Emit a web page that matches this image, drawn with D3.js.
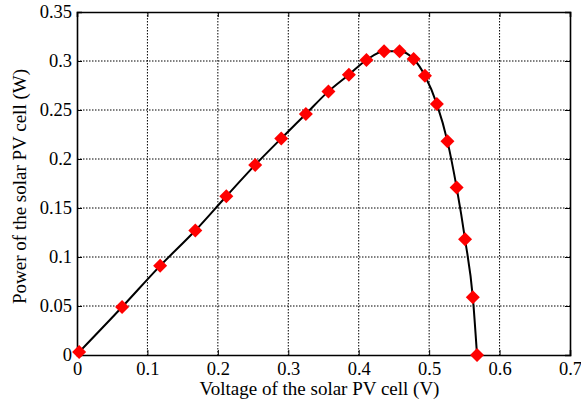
<!DOCTYPE html>
<html>
<head>
<meta charset="utf-8">
<script src="https://cdn.jsdelivr.net/npm/d3@7"></script>
<style>
  body { margin: 0; background: #fff; }
  text { font-family: "Liberation Serif", "Times New Roman", serif; fill: #000; }
</style>
</head>
<body>
<div id="chart"></div>
<script>
// measured points of the PV cell (voltage V, power W)
var voltage = [0.003, 0.064, 0.118, 0.168, 0.212, 0.253, 0.290, 0.325, 0.357, 0.386,
               0.411, 0.436, 0.458, 0.478, 0.494, 0.511, 0.526, 0.539, 0.551, 0.562, 0.568];
var power = [0.003, 0.049, 0.091, 0.127, 0.162, 0.194, 0.221, 0.246, 0.269, 0.286,
             0.301, 0.310, 0.310, 0.302, 0.285, 0.256, 0.218, 0.171, 0.118, 0.059, 0.000];
var xTicks = [0, 0.1, 0.2, 0.3, 0.4, 0.5, 0.6, 0.7];
var yTicks = [0, 0.05, 0.1, 0.15, 0.2, 0.25, 0.3, 0.35];

var width = 581, height = 408;
var margin = { top: 12, right: 11, bottom: 53, left: 77 };
var w = width - margin.left - margin.right;
var h = height - margin.top - margin.bottom;
var serif = "'Liberation Serif', 'Times New Roman', serif";

var svg = d3.select("#chart")
    .append("svg")
    .attr("width", width)
    .attr("height", height)
    .append("g")
    .attr("transform", "translate(" + margin.left + "," + margin.top + ")");

var x = d3.scaleLinear().domain([0, 0.7]).range([0, w]);
var y = d3.scaleLinear().domain([0, 0.35]).range([h, 0]);

// dotted grid
svg.append("g").selectAll("line")
    .data(xTicks.slice(1, -1))
    .enter().append("line")
    .attr("x1", function (d) { return x(d); })
    .attr("x2", function (d) { return x(d); })
    .attr("y1", 0).attr("y2", h)
    .attr("stroke", "#000").attr("stroke-width", 1)
    .attr("stroke-dasharray", "1.5,1.5");

svg.append("g").selectAll("line")
    .data(yTicks.slice(1, -1))
    .enter().append("line")
    .attr("y1", function (d) { return y(d); })
    .attr("y2", function (d) { return y(d); })
    .attr("x1", 0).attr("x2", w)
    .attr("stroke", "#000").attr("stroke-width", 1)
    .attr("stroke-dasharray", "1.5,1.5");

// axes with inward ticks
var fmt = function (d) { return String(+d.toFixed(2)); };

svg.append("g")
    .attr("transform", "translate(0," + h + ")")
    .call(d3.axisBottom(x).tickValues(xTicks).tickSize(-5).tickPadding(7).tickFormat(fmt));
svg.append("g")
    .call(d3.axisLeft(y).tickValues(yTicks).tickSize(-5).tickPadding(5).tickFormat(fmt));
svg.append("g")
    .call(d3.axisTop(x).tickValues(xTicks).tickSize(-5).tickFormat(""));
svg.append("g")
    .attr("transform", "translate(" + w + ",0)")
    .call(d3.axisRight(y).tickValues(yTicks).tickSize(-5).tickFormat(""));

svg.selectAll("g").attr("font-family", serif).attr("font-size", 18);
svg.selectAll(".domain").attr("stroke", "#000").attr("stroke-width", 1.6);
svg.selectAll(".tick line").attr("stroke", "#000").attr("stroke-width", 1);
svg.selectAll(".tick text")
    .style("font-family", serif)
    .style("font-size", "18.5px")
    .attr("fill", "#000");

// curve
var pts = voltage.map(function (v, i) { return [v, power[i]]; });
var line = d3.line()
    .x(function (d) { return x(d[0]); })
    .y(function (d) { return y(d[1]); })
    .curve(d3.curveMonotoneX);

svg.append("path")
    .datum(pts)
    .attr("fill", "none")
    .attr("stroke", "#000")
    .attr("stroke-width", 2)
    .attr("d", line);

// square diamond markers
var diamond = {
    draw: function (ctx, size) {
        var r = Math.sqrt(size / 2);
        ctx.moveTo(0, -r);
        ctx.lineTo(r, 0);
        ctx.lineTo(0, r);
        ctx.lineTo(-r, 0);
        ctx.closePath();
    }
};

svg.append("g").selectAll("path")
    .data(pts)
    .enter().append("path")
    .attr("transform", function (d) { return "translate(" + x(d[0]) + "," + y(d[1]) + ")"; })
    .attr("d", d3.symbol().type(diamond).size(98))
    .attr("fill", "#ff0000");

// axis titles
svg.append("text")
    .attr("x", w / 2 - 4)
    .attr("y", h + 40)
    .attr("text-anchor", "middle")
    .style("font-family", serif)
    .style("font-size", "19px")
    .text("Voltage of the solar PV cell (V)");

svg.append("text")
    .attr("transform", "translate(" + (-margin.left + 26) + "," + (h / 2 + 3) + ") rotate(-90)")
    .attr("text-anchor", "middle")
    .style("font-family", serif)
    .style("font-size", "19px")
    .text("Power of the solar PV cell (W)");
</script>
</body>
</html>
